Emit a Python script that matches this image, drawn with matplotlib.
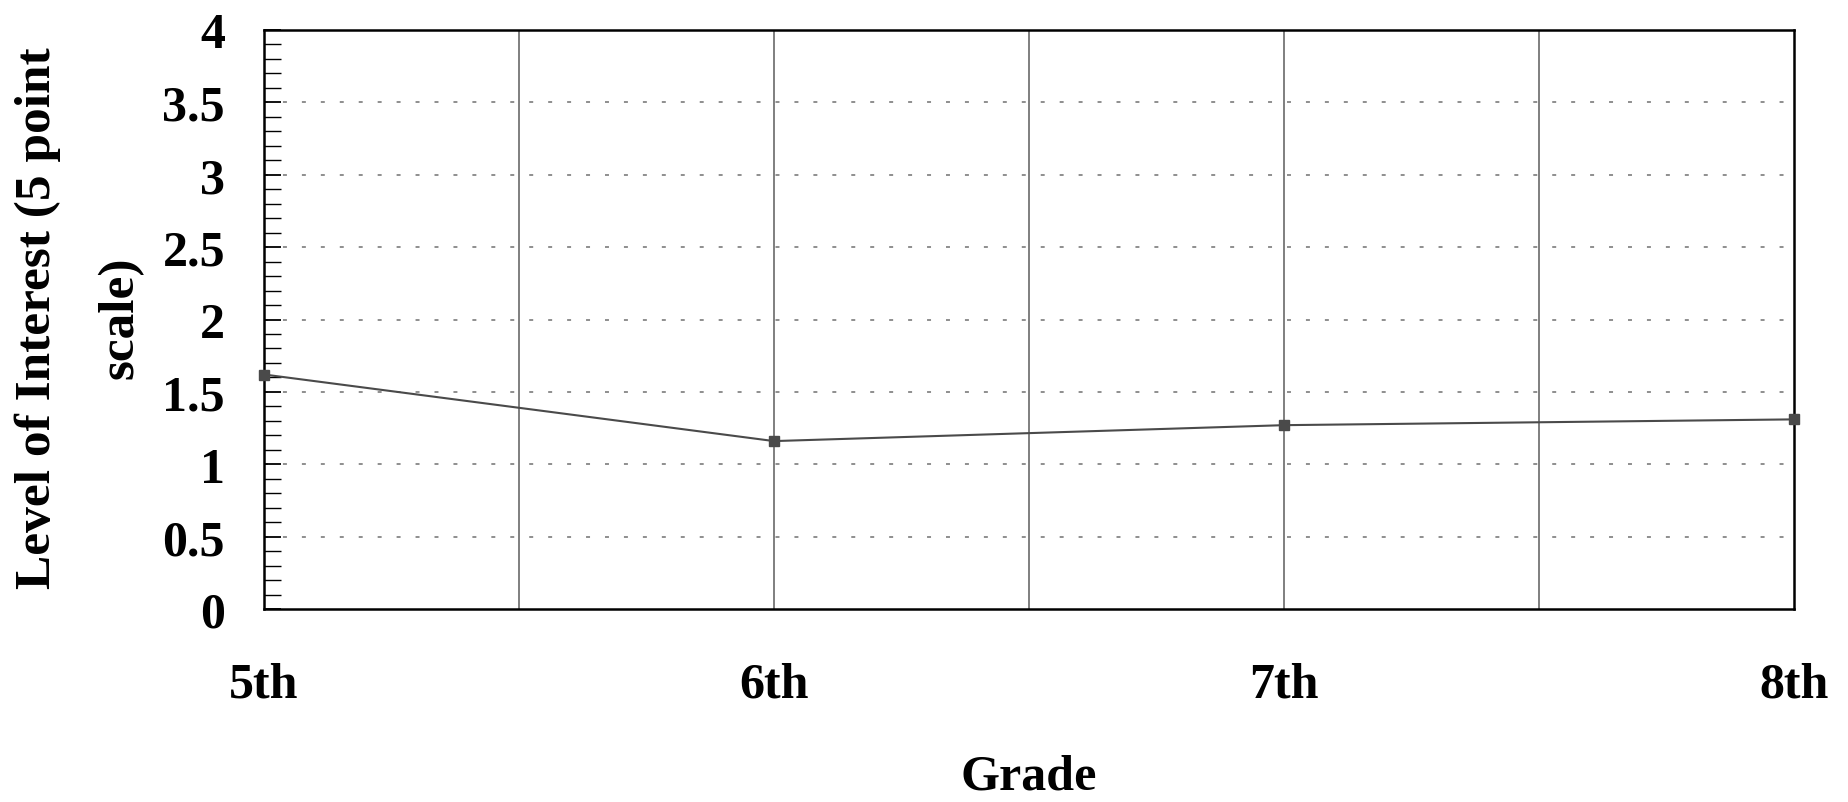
import matplotlib
matplotlib.use("Agg")
import matplotlib.pyplot as plt
import numpy as np
from matplotlib.ticker import MultipleLocator

grades = ["5th", "6th", "7th", "8th"]
interest = [1.62, 1.16, 1.27, 1.31]
yticks = [0, 0.5, 1, 1.5, 2, 2.5, 3, 3.5, 4]
ytick_labels = ["0", "0.5", "1", "1.5", "2", "2.5", "3", "3.5", "4"]

plt.rcParams['font.family'] = ['Liberation Serif', 'DejaVu Serif']
plt.rcParams['font.weight'] = 'bold'

fig = plt.figure(figsize=(18.48, 8.03), dpi=100)
ax = fig.add_axes([264/1848, 1-610/803, (1794-264)/1848, (610-31)/803])

x = np.arange(len(grades))
ax.plot(x, interest, color='#4a4a4a', linewidth=1.5, marker='s', markersize=7,
        markerfacecolor='#4a4a4a', markeredgecolor='#4a4a4a', zorder=5, clip_on=False)

ax.set_xlim(0, len(grades)-1)
ax.set_ylim(0, 4)

# vertical grid lines at every half category
for xv in np.arange(0, len(grades)-0.5+0.01, 0.5):
    if 0 < xv < len(grades)-1:
        ax.axvline(xv, color='#6a6a6a', linewidth=1.2, zorder=1)
# horizontal dotted grid
for yv in yticks[1:-1]:
    ax.axhline(yv, color='#707070', linewidth=1.1, linestyle=(0, (2.6, 9.8)), zorder=1)

ax.set_xticks(x)
ax.set_xticklabels(grades, fontsize=36, fontweight='bold')
ax.set_yticks(yticks)
ax.set_yticklabels(ytick_labels, fontsize=36, fontweight='bold')
ax.yaxis.set_minor_locator(MultipleLocator(0.1))
ax.tick_params(axis='y', which='major', direction='in', length=12, width=1.3, pad=28)
ax.tick_params(axis='y', which='minor', direction='in', length=12, width=1.0)
ax.tick_params(axis='x', which='major', direction='in', length=0, pad=38)

for s in ax.spines.values():
    s.set_color('black')
    s.set_linewidth(1.8)

fig.text(1029/1848, 1-778/803, "Grade", fontsize=36, fontweight='bold',
         ha='center', va='center')
fig.text(38/1848, 1-318/803, "Level of Interest (5 point", fontsize=37, fontweight='bold',
         rotation=90, ha='center', va='center')
fig.text(121/1848, 1-318/803, "scale)", fontsize=37, fontweight='bold',
         rotation=90, ha='center', va='center')

fig.savefig("out.png", dpi=100)
